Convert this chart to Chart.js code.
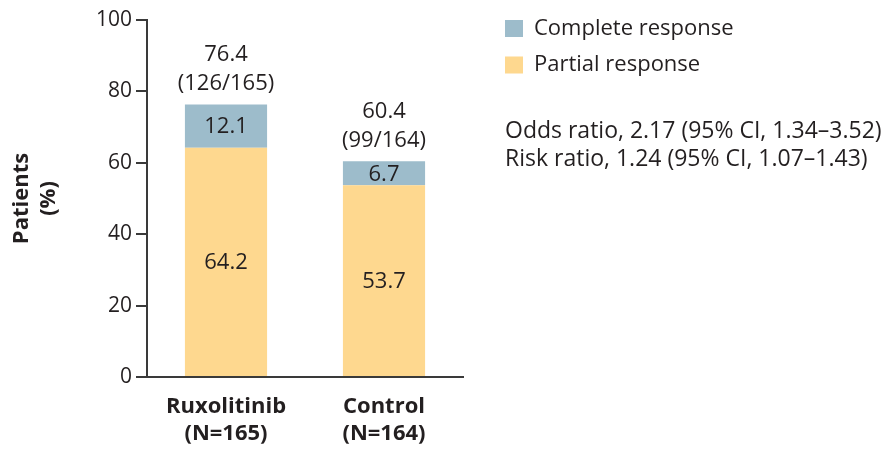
<!DOCTYPE html>
<html>
<head>
<meta charset="utf-8">
<script src="https://cdn.jsdelivr.net/npm/chart.js@4.4.1/dist/chart.umd.min.js"></script>
<style>
  html, body { margin: 0; padding: 0; background: #ffffff; }
  #wrap { width: 891px; height: 449px; position: relative; }
</style>
</head>
<body>
<div id="wrap"><canvas id="chart" width="891" height="449"></canvas></div>
<script>
// Overall response by treatment group
const groups = [["Ruxolitinib", "(N=165)"], ["Control", "(N=164)"]];
const partialResponse = [64.2, 53.7];
const completeResponse = [12.1, 6.7];
const overallResponse = [76.4, 60.4];
const responders = ["(126/165)", "(99/164)"];
const yTicks = [0, 20, 40, 60, 80, 100];
const legendItems = ["Complete response", "Partial response"];
const ratioNotes = [
  "Odds ratio, 2.17 (95% CI, 1.34\u20133.52)",
  "Risk ratio, 1.24 (95% CI, 1.07\u20131.43)"
];

const BLUE = "#9dbccb";
const ORANGE = "#fed88f";
const INK = "#231f20";
const FONT = "'Open Sans', 'Noto Sans', sans-serif";

// Segment values inside the bars, totals and counts above them
const barLabels = {
  id: "barLabels",
  afterDatasetsDraw(chart) {
    const ctx = chart.ctx;
    ctx.save();
    ctx.fillStyle = INK;
    ctx.textAlign = "center";
    ctx.textBaseline = "middle";
    ctx.font = "22px " + FONT;
    chart.data.datasets.forEach((ds, di) => {
      chart.getDatasetMeta(di).data.forEach((bar, i) => {
        const props = bar.getProps(["x", "y", "base"], true);
        ctx.fillText(ds.data[i].toFixed(1), props.x, (props.y + props.base) / 2 + 1);
      });
    });
    const topMeta = chart.getDatasetMeta(chart.data.datasets.length - 1);
    topMeta.data.forEach((bar, i) => {
      const p = bar.getProps(["x", "y"], true);
      ctx.fillText(responders[i], p.x, p.y - 21);
      ctx.fillText(overallResponse[i].toFixed(1), p.x, p.y - 50);
    });
    ctx.restore();
  }
};

// Legend and ratio notes at the right side
const sideNotes = {
  id: "sideNotes",
  afterDraw(chart) {
    const ctx = chart.ctx;
    ctx.save();
    ctx.textBaseline = "middle";
    ctx.textAlign = "left";
    ctx.font = "22px " + FONT;
    const colors = [BLUE, ORANGE];
    const ys = [28.5, 65];
    legendItems.forEach((t, i) => {
      ctx.fillStyle = colors[i];
      ctx.fillRect(505, ys[i] - 8.5, 18, 17);
      ctx.fillStyle = INK;
      ctx.fillText(t, 534, ys[i]);
    });
    ctx.font = "23px " + FONT;
    ratioNotes.forEach((t, i) => {
      ctx.fillText(t, 505, 131 + i * 28);
    });
    ctx.restore();
  }
};

new Chart(document.getElementById("chart"), {
  type: "bar",
  data: {
    labels: groups,
    datasets: [
      { label: legendItems[1], data: partialResponse, backgroundColor: ORANGE, borderWidth: 0 },
      { label: legendItems[0], data: completeResponse, backgroundColor: BLUE, borderWidth: 0 }
    ]
  },
  options: {
    responsive: false,
    animation: false,
    layout: { padding: { top: 20, right: 428, bottom: 0, left: 0 } },
    plugins: {
      legend: { display: false },
      tooltip: { enabled: false }
    },
    datasets: {
      bar: { barPercentage: 1.0, categoryPercentage: 0.52 }
    },
    scales: {
      x: {
        stacked: true,
        offset: true,
        grid: { display: false },
        border: { display: true, color: "#3a3a3a", width: 2 },
        ticks: {
          color: INK,
          padding: 9,
          font: { family: FONT, size: 22, weight: "bold" },
          maxRotation: 0
        },
        afterFit(scale) { scale.height = 72; }
      },
      y: {
        stacked: true,
        min: 0,
        max: 100,
        afterBuildTicks(scale) { scale.ticks = yTicks.map(v => ({ value: v })); },
        grid: {
          drawOnChartArea: false,
          drawTicks: true,
          tickLength: 11,
          color: "#3a3a3a",
          lineWidth: 2
        },
        border: { display: true, color: "#3a3a3a", width: 2 },
        ticks: {
          color: INK,
          padding: 4,
          font: { family: FONT, size: 21 }
        },
        title: {
          display: true,
          text: ["Patients", "(%)"],
          color: INK,
          font: { family: FONT, size: 22, weight: "bold" },
          padding: { top: 9, bottom: 0 }
        },
        afterFit(scale) { scale.width = 147; }
      }
    }
  },
  plugins: [barLabels, sideNotes]
});
</script>
</body>
</html>
